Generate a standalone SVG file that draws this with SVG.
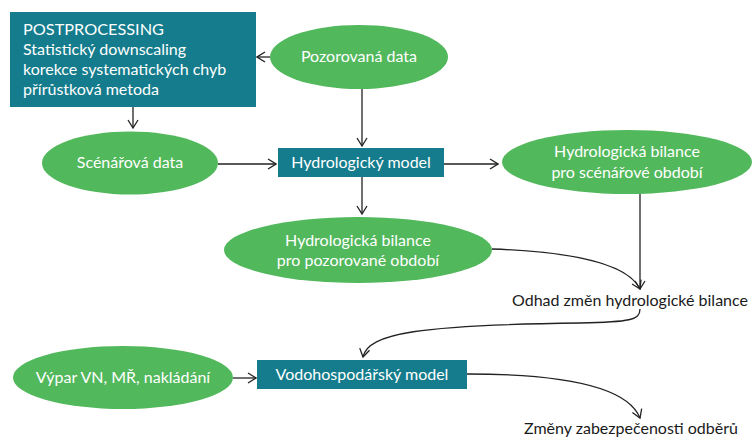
<svg xmlns="http://www.w3.org/2000/svg" width="752" height="439" viewBox="0 0 752 439">
<style>
.box{fill:#147c8c}
.ell{fill:#52b85c}
.wt{fill:#ffffff;font-family:Lato,"Open Sans","Liberation Sans",sans-serif;font-size:16px}
.bt{fill:#1a1a1a;font-family:Lato,"Open Sans","Liberation Sans",sans-serif;font-size:16px}
.mid{text-anchor:middle}
.con{fill:none;stroke:#222;stroke-width:1.3;marker-end:url(#arr)}
</style>
<defs>
<marker id="arr" viewBox="0 0 10 12" refX="9" refY="6" markerWidth="10" markerHeight="12" markerUnits="userSpaceOnUse" orient="auto">
<path d="M1,1 L9,6 L1,11" fill="none" stroke="#222" stroke-width="1.3"/>
</marker>
</defs>
<rect width="752" height="439" fill="#ffffff"/>
<g id="connectors">
<path class="con" d="M270,57 L257,57"/>
<path class="con" d="M133,107 L133,128"/>
<path class="con" d="M362,89 L362,146"/>
<path class="con" d="M218,164 L276,164"/>
<path class="con" d="M444,164 L498,164"/>
<path class="con" d="M362,177 L362,214"/>
<path class="con" d="M640,194 L640,289"/>
<path class="con" d="M492,249 C550,251 625,258 640,289"/>
<path class="con" d="M640,309 C640,320 630,322 580,323 C420,325 368,333 363,357"/>
<path class="con" d="M233,378 L256,378"/>
<path class="con" d="M467,374 C570,374 628,388 640,418"/>
</g>
<g id="postprocessing">
<rect class="box" x="10" y="12" width="246" height="95"/>
<text class="wt" x="23" y="35" textLength="141" lengthAdjust="spacingAndGlyphs">POSTPROCESSING</text>
<text class="wt" x="23" y="55">Statistický downscaling</text>
<text class="wt" x="23" y="75">korekce systematických chyb</text>
<text class="wt" x="23" y="95">přírůstková metoda</text>
</g>
<g id="pozorovana-data">
<ellipse class="ell" cx="359" cy="57" rx="89" ry="32"/>
<text class="wt mid" x="359" y="62">Pozorovaná data</text>
</g>
<g id="scenarova-data">
<ellipse class="ell" cx="130" cy="163" rx="88" ry="31.5"/>
<text class="wt mid" x="130" y="168">Scénářová data</text>
</g>
<g id="hydrologicky-model">
<rect class="box" x="278" y="148" width="166" height="29"/>
<text class="wt mid" x="361" y="168">Hydrologický model</text>
</g>
<g id="bilance-scenar">
<ellipse class="ell" cx="627" cy="162" rx="125" ry="32"/>
<text class="wt mid" x="627" y="157">Hydrologická bilance</text>
<text class="wt mid" x="627" y="178">pro scénářové období</text>
</g>
<g id="bilance-pozor">
<ellipse class="ell" cx="358" cy="250" rx="134" ry="33"/>
<text class="wt mid" x="358" y="246">Hydrologická bilance</text>
<text class="wt mid" x="358" y="266">pro pozorované období</text>
</g>
<g id="odhad">
<text class="bt mid" x="630" y="306">Odhad změn hydrologické bilance</text>
</g>
<g id="vypar">
<ellipse class="ell" cx="123" cy="377.5" rx="110" ry="31.5"/>
<text class="wt mid" x="123" y="383">Výpar VN, MŘ, nakládání</text>
</g>
<g id="vodohospodarsky-model">
<rect class="box" x="257" y="360" width="210" height="29"/>
<text class="wt mid" x="362" y="380">Vodohospodářský model</text>
</g>
<g id="zmeny">
<text class="bt mid" x="631" y="434">Změny zabezpečenosti odběrů</text>
</g>
</svg>
